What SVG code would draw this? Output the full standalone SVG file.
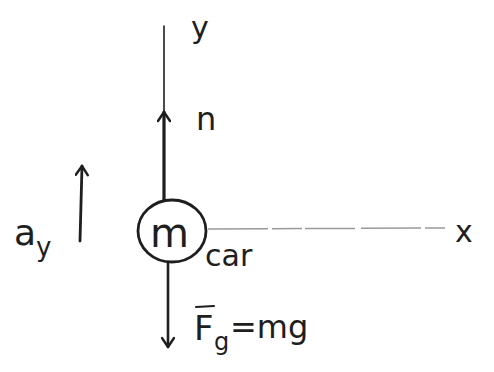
<svg xmlns="http://www.w3.org/2000/svg" width="494" height="372" viewBox="0 0 494 372">
<style>
.ink{stroke:#1e1e1e;fill:none;stroke-linecap:round;stroke-linejoin:round}
.t{font-family:"DejaVu Sans","Liberation Sans",sans-serif;fill:#1e1e1e}
</style>
<defs>
<marker id="ah" viewBox="0 0 14 14" refX="12" refY="7" markerWidth="14" markerHeight="14" markerUnits="userSpaceOnUse" orient="auto">
<path d="M3,1 L12,7 L3,13" fill="none" stroke="#1e1e1e" stroke-width="2.4" stroke-linecap="round" stroke-linejoin="round"/>
</marker>
</defs>
<rect width="494" height="372" fill="#fff"/>
<g id="axes">
<line class="ink" x1="164" y1="26" x2="164" y2="112" stroke-width="1.6"/>
<line x1="208" y1="229" x2="445" y2="228" stroke="#9a9a9a" stroke-width="1.5" stroke-dasharray="60 4 30 3 50 6"/>
<text class="t" x="191" y="38" font-size="30">y</text>
<text class="t" x="455" y="242" font-size="30">x</text>
</g>
<g id="mass">
<ellipse class="ink" cx="172" cy="231" rx="34" ry="31" stroke-width="2.8"/>
<text class="t" x="150" y="247" font-size="40">m</text>
<text class="t" x="205" y="266" font-size="30">car</text>
</g>
<g id="connectors">
<line class="ink" x1="164" y1="200" x2="164" y2="112" stroke-width="3.2" marker-end="url(#ah)"/>
<line class="ink" x1="168" y1="263" x2="168" y2="347" stroke-width="2.6" marker-end="url(#ah)"/>
<line class="ink" x1="80" y1="241" x2="82" y2="166" stroke-width="2.8" marker-end="url(#ah)"/>
</g>
<g id="labels">
<text class="t" x="196" y="130" font-size="32">n</text>
<text class="t" x="14" y="245" font-size="36">a</text>
<text class="t" x="36" y="256" font-size="26">y</text>
<text class="t" x="194" y="340" font-size="34">F</text>
<line class="ink" x1="196" y1="307" x2="214" y2="306" stroke-width="2"/>
<text class="t" x="214" y="350" font-size="24">g</text>
<text class="t" x="230" y="338" font-size="32">=mg</text>
</g>
</svg>
